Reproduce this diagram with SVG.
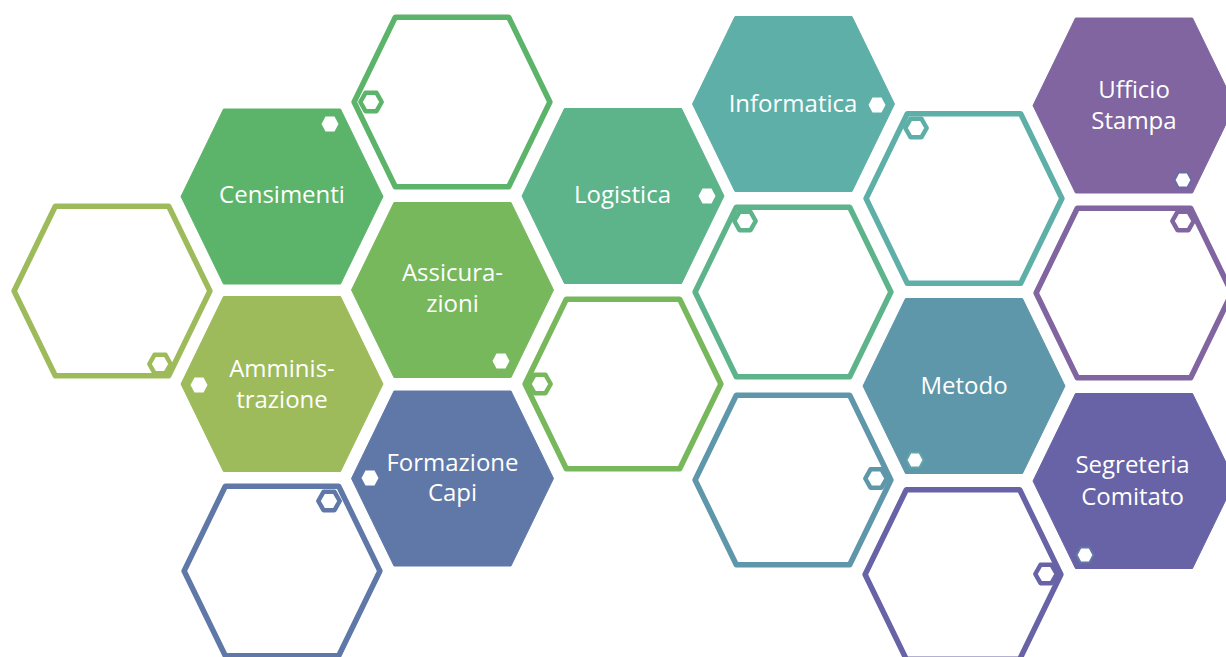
<svg xmlns="http://www.w3.org/2000/svg" xmlns:xlink="http://www.w3.org/1999/xlink" width="1226" height="657" viewBox="0 0 1226 657">
<style>
  .lbl { font-family: "Open Sans", "Liberation Sans", sans-serif; font-size: 24px; fill: #ffffff; text-anchor: middle; }
  .ol { fill: #ffffff; stroke-width: 5.5; stroke-linejoin: round; }
  .ring { fill: #ffffff; stroke-width: 4.5; stroke-linejoin: round; }
  .dot { fill: #ffffff; }
  .c-cen { fill: #5cb46a; stroke: #5cb46a; }
  .c-amm { fill: #9dbb5a; stroke: #9dbb5a; }
  .c-ass { fill: #77b85c; stroke: #77b85c; }
  .c-log { fill: #5db38a; stroke: #5db38a; }
  .c-inf { fill: #5eafa8; stroke: #5eafa8; }
  .c-met { fill: #5e96aa; stroke: #5e96aa; }
  .c-for { fill: #6078a8; stroke: #6078a8; }
  .c-uff { fill: #8065a0; stroke: #8065a0; }
  .c-seg { fill: #6863a6; stroke: #6863a6; }
  .s-cen { stroke: #5cb46a; }
  .s-amm { stroke: #9dbb5a; }
  .s-ass { stroke: #77b85c; }
  .s-log { stroke: #5db38a; }
  .s-inf { stroke: #5eafa8; }
  .s-met { stroke: #5e96aa; }
  .s-for { stroke: #6078a8; }
  .s-uff { stroke: #8065a0; }
  .s-seg { stroke: #6863a6; }
</style>
<defs>
  <path id="hexFill" d="M-101,0 L-58.5,-87.5 L58.5,-87.5 L101,0 L58.5,87.5 L-58.5,87.5 Z"/>
  <path id="hexLine" d="M-97.9,0 L-56.7,-84.75 L56.7,-84.75 L97.9,0 L56.7,84.75 L-56.7,84.75 Z"/>
  <path id="dotHex" d="M-8.5,0 L-4.5,-7.5 L4.5,-7.5 L8.5,0 L4.5,7.5 L-4.5,7.5 Z"/>
  <path id="ringHex" d="M-10.7,0 L-5.5,-9.2 L5.5,-9.2 L10.7,0 L5.5,9.2 L-5.5,9.2 Z"/>
</defs>

<g id="outline-hexes">
  <g id="outline-left">
    <use href="#hexLine" class="ol s-amm" x="112" y="291"/>
    <use href="#ringHex" class="ring s-amm" x="160" y="364"/>
  </g>
  <g id="outline-top">
    <use href="#hexLine" class="ol s-cen" x="452" y="102"/>
    <use href="#ringHex" class="ring s-cen" x="371" y="102"/>
  </g>
  <g id="outline-mid-green">
    <use href="#hexLine" class="ol s-ass" x="623" y="384"/>
    <use href="#ringHex" class="ring s-ass" x="540" y="384"/>
  </g>
  <g id="outline-bottom-blue">
    <use href="#hexLine" class="ol s-for" x="282" y="571"/>
    <use href="#ringHex" class="ring s-for" x="329" y="501"/>
  </g>
  <g id="outline-seagreen">
    <use href="#hexLine" class="ol s-log" x="793" y="292"/>
    <use href="#ringHex" class="ring s-log" x="745" y="221"/>
  </g>
  <g id="outline-teal">
    <use href="#hexLine" class="ol s-inf" x="964" y="198.5"/>
    <use href="#ringHex" class="ring s-inf" x="916" y="128"/>
  </g>
  <g id="outline-steel">
    <use href="#hexLine" class="ol s-met" x="793" y="480"/>
    <use href="#ringHex" class="ring s-met" x="876" y="478.5"/>
  </g>
  <g id="outline-purple">
    <use href="#hexLine" class="ol s-uff" x="1134" y="293"/>
    <use href="#ringHex" class="ring s-uff" x="1183" y="221"/>
  </g>
  <g id="outline-violet">
    <use href="#hexLine" class="ol s-seg" x="963" y="574.5"/>
    <use href="#ringHex" class="ring s-seg" x="1046" y="574"/>
  </g>
</g>

<g id="censimenti">
  <use href="#hexFill" class="c-cen" x="282" y="196.5"/>
  <use href="#dotHex" class="dot" x="330" y="124"/>
  <text class="lbl" x="282" y="203">Censimenti</text>
</g>
<g id="assicurazioni">
  <use href="#hexFill" class="c-ass" x="452.5" y="290"/>
  <use href="#dotHex" class="dot" x="501" y="361"/>
  <text class="lbl" x="452.5" y="281">Assicura-</text>
  <text class="lbl" x="452.5" y="312">zioni</text>
</g>
<g id="amministrazione">
  <use href="#hexFill" class="c-amm" x="282" y="384"/>
  <use href="#dotHex" class="dot" x="199" y="385"/>
  <text class="lbl" x="282" y="377">Amminis-</text>
  <text class="lbl" x="282" y="408">trazione</text>
</g>
<g id="formazione-capi">
  <use href="#hexFill" class="c-for" x="452.5" y="478.5"/>
  <use href="#dotHex" class="dot" x="370" y="478"/>
  <text class="lbl" x="452.5" y="471">Formazione</text>
  <text class="lbl" x="452.5" y="501">Capi</text>
</g>
<g id="logistica">
  <use href="#hexFill" class="c-log" x="623" y="196"/>
  <use href="#dotHex" class="dot" x="707" y="196"/>
  <text class="lbl" x="622.5" y="203">Logistica</text>
</g>
<g id="informatica">
  <use href="#hexFill" class="c-inf" x="793.5" y="104"/>
  <use href="#dotHex" class="dot" x="877" y="105"/>
  <text class="lbl" x="793" y="112">Informatica</text>
</g>
<g id="ufficio-stampa">
  <use href="#hexFill" class="c-uff" x="1134" y="105.5"/>
  <use href="#dotHex" class="dot" x="1183" y="180" stroke="#6c6aa8" stroke-width="2"/>
  <text class="lbl" x="1134" y="98">Ufficio</text>
  <text class="lbl" x="1134" y="129">Stampa</text>
</g>
<g id="metodo">
  <use href="#hexFill" class="c-met" x="964" y="386"/>
  <use href="#dotHex" class="dot" x="915" y="460" stroke="#5fa6aa" stroke-width="2"/>
  <text class="lbl" x="964" y="394">Metodo</text>
</g>
<g id="segreteria-comitato">
  <use href="#hexFill" class="c-seg" x="1134" y="481"/>
  <use href="#dotHex" class="dot" x="1085" y="555" stroke="#6276a8" stroke-width="2"/>
  <text class="lbl" x="1132.5" y="473">Segreteria</text>
  <text class="lbl" x="1132.5" y="505">Comitato</text>
</g>
</svg>
